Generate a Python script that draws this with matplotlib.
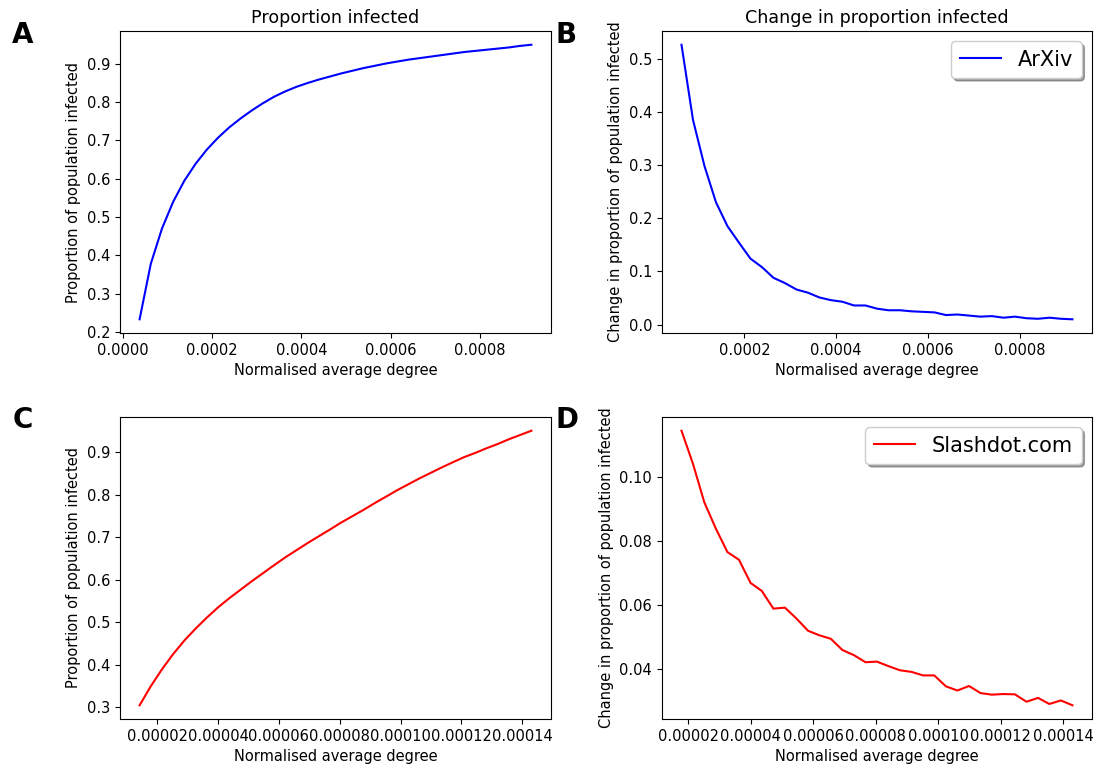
import matplotlib
matplotlib.use("Agg")
import matplotlib.pyplot as plt

# ArXiv network: normalised average degree vs proportion infected
arxivDegree = [0.0000379, 0.0000630, 0.0000880, 0.0001131, 0.0001381, 0.0001632,
               0.0001883, 0.0002133, 0.0002384, 0.0002634, 0.0002885, 0.0003136,
               0.0003386, 0.0003637, 0.0003887, 0.0004138, 0.0004389, 0.0004639,
               0.0004890, 0.0005140, 0.0005391, 0.0005642, 0.0005892, 0.0006143,
               0.0006393, 0.0006644, 0.0006895, 0.0007145, 0.0007396, 0.0007646,
               0.0007897, 0.0008148, 0.0008398, 0.0008649, 0.0008899, 0.0009150]
arxivInfected = [0.233, 0.378, 0.470, 0.540, 0.595, 0.639, 0.676, 0.707, 0.734, 0.757,
                 0.778, 0.797, 0.814, 0.828, 0.840, 0.850, 0.859, 0.867, 0.875, 0.882,
                 0.889, 0.895, 0.901, 0.906, 0.911, 0.915, 0.919, 0.923, 0.927, 0.931,
                 0.934, 0.937, 0.940, 0.943, 0.947, 0.950]
arxivChange = [0.526, 0.385, 0.298, 0.230, 0.185, 0.154, 0.124, 0.108, 0.088, 0.078,
               0.066, 0.060, 0.051, 0.046, 0.043, 0.036, 0.036, 0.030, 0.027, 0.027,
               0.025, 0.024, 0.023, 0.018, 0.019, 0.017, 0.015, 0.016, 0.013, 0.015,
               0.012, 0.011, 0.013, 0.011, 0.010]

# Slashdot.com network
slashDegree = [0.0000142, 0.0000179, 0.0000216, 0.0000252, 0.0000289, 0.0000326,
               0.0000363, 0.0000400, 0.0000436, 0.0000473, 0.0000510, 0.0000547,
               0.0000584, 0.0000620, 0.0000657, 0.0000694, 0.0000731, 0.0000768,
               0.0000804, 0.0000841, 0.0000878, 0.0000915, 0.0000952, 0.0000988,
               0.0001025, 0.0001062, 0.0001099, 0.0001136, 0.0001172, 0.0001209,
               0.0001246, 0.0001283, 0.0001320, 0.0001356, 0.0001393, 0.0001430]
slashInfected = [0.305, 0.350, 0.390, 0.425, 0.457, 0.485, 0.511, 0.535, 0.556, 0.576,
                 0.596, 0.615, 0.634, 0.652, 0.669, 0.686, 0.702, 0.718, 0.734, 0.749,
                 0.764, 0.780, 0.795, 0.810, 0.824, 0.838, 0.851, 0.864, 0.876, 0.888,
                 0.898, 0.909, 0.919, 0.930, 0.940, 0.950]
slashChange = [0.1143, 0.1039, 0.0920, 0.0838, 0.0765, 0.0741, 0.0669, 0.0644, 0.0589,
               0.0592, 0.0558, 0.0520, 0.0506, 0.0495, 0.0460, 0.0444, 0.0422, 0.0424,
               0.0410, 0.0397, 0.0392, 0.0381, 0.0381, 0.0347, 0.0334, 0.0348, 0.0326,
               0.0321, 0.0323, 0.0322, 0.0299, 0.0311, 0.0292, 0.0303, 0.0288]

xLabel = "Normalised average degree"
propLabel = "Proportion of population infected"
changeLabel = "Change in proportion of population infected"

plt.rcParams["font.size"] = 10.5

fig = plt.figure(figsize=(11.04, 7.64), dpi=100)
axA = fig.add_axes([0.1087, 0.5641, 0.3904, 0.3953])
axB = fig.add_axes([0.5996, 0.5641, 0.3895, 0.3953])
axC = fig.add_axes([0.1087, 0.0589, 0.3904, 0.3953])
axD = fig.add_axes([0.5996, 0.0589, 0.3895, 0.3953])

axA.plot(arxivDegree, arxivInfected, color="b")
axA.set_title("Proportion infected")
axA.set_ylabel(propLabel)
axA.set_xlabel(xLabel)

axB.plot(arxivDegree[1:], arxivChange, color="b", label="ArXiv")
axB.set_title("Change in proportion infected")
axB.set_ylabel(changeLabel)
axB.set_xlabel(xLabel)
axB.legend(loc="upper right", fontsize=15, shadow=True, fancybox=True)

axC.plot(slashDegree, slashInfected, color="r")
axC.set_ylabel(propLabel)
axC.set_xlabel(xLabel)

axD.plot(slashDegree[1:], slashChange, color="r", label="Slashdot.com")
axD.set_ylabel(changeLabel)
axD.set_xlabel(xLabel)
axD.legend(loc="upper right", fontsize=15, shadow=True, fancybox=True)

for letter, xPos, yPos in [("A", 0.011, 0.972), ("B", 0.503, 0.972),
                           ("C", 0.011, 0.468), ("D", 0.503, 0.468)]:
    fig.text(xPos, yPos, letter, fontsize=20, fontweight="bold", va="top", ha="left")

fig.savefig("out.png", dpi=100)
